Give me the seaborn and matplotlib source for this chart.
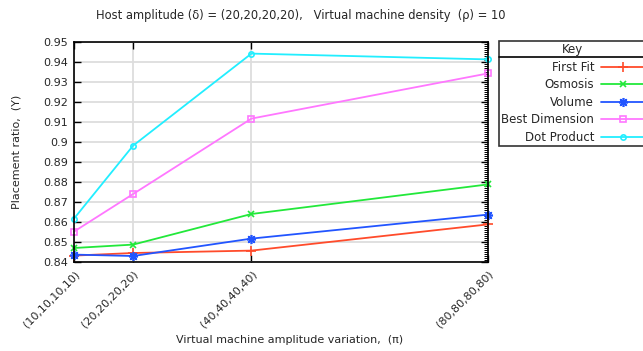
import matplotlib
matplotlib.use("Agg")
import matplotlib.pyplot as plt
from matplotlib.lines import Line2D
from matplotlib.ticker import MultipleLocator, FixedLocator, FuncFormatter
import seaborn as sns
import pandas as pd

# ---- data ----
amplitudes = [10, 20, 40, 80]
tick_labels = ["(10,10,10,10)", "(20,20,20,20)", "(40,40,40,40)", "(80,80,80,80)"]
first_fit = [0.8432, 0.8445, 0.8457, 0.8588]
osmosis = [0.8470, 0.8487, 0.8640, 0.8788]
volume = [0.8437, 0.8430, 0.8517, 0.8637]
best_dimension = [0.8552, 0.8740, 0.9117, 0.9343]
dot_product = [0.8617, 0.8982, 0.9442, 0.9413]

series_names = ["First Fit", "Osmosis", "Volume", "Best Dimension", "Dot Product"]
series_values = [first_fit, osmosis, volume, best_dimension, dot_product]
colors = ["#ff4b2b", "#22e83a", "#2255ff", "#ff77ff", "#22eeff"]
markers = ["+", "x", (8, 2, 0), "s", "o"]
msizes = [6.5, 5, 6.5, 5, 3.8]
filled = [True, True, True, False, False]

rows = []
for name, vals in zip(series_names, series_values):
    for a, v in zip(amplitudes, vals):
        rows.append({"amp": a, "ratio": v, "series": name})
df = pd.DataFrame(rows)

sns.set_theme(style="white")
plt.rcParams["font.family"] = ["DejaVu Sans"]
FS = 8

W, H = 643, 351
fig = plt.figure(figsize=(W / 100, H / 100), dpi=100)
ax = fig.add_axes([74 / W, 1 - 262 / H, (488 - 74) / W, (262 - 42) / H])

for name, c, m, ms, f in zip(series_names, colors, markers, msizes, filled):
    sub = df[df["series"] == name]
    kw = dict(markerfacecolor=c) if f else dict(markerfacecolor="none")
    sns.lineplot(data=sub, x="amp", y="ratio", ax=ax, color=c, marker=m,
                 markersize=ms, markeredgecolor=c, markeredgewidth=1.2,
                 linewidth=1.3, label=name, clip_on=False, zorder=3, **kw)

ax.set_xlim(10, 80)
ax.set_ylim(0.84, 0.95)
ax.xaxis.set_major_locator(FixedLocator(amplitudes))
ax.set_xticklabels(tick_labels, rotation=45, ha="right", rotation_mode="anchor", fontsize=FS)
ax.yaxis.set_major_locator(MultipleLocator(0.01))
ax.yaxis.set_minor_locator(MultipleLocator(0.001))
ax.yaxis.set_major_formatter(FuncFormatter(lambda v, p: ("%.2f" % v).rstrip("0").rstrip(".")))
ax.tick_params(axis="y", which="major", direction="in", left=True, right=True, length=5, width=1, labelsize=FS, pad=4, color="black")
ax.tick_params(axis="y", which="minor", direction="in", left=False, right=True, length=3, width=0.7, color="black")
ax.tick_params(axis="x", which="major", direction="in", bottom=True, top=True, length=5, width=1, labelsize=FS, pad=5, color="black")

ax.grid(True, which="major", color="#dddddd", linewidth=1.3)
ax.set_axisbelow(True)
for s in ax.spines.values():
    s.set_color("black")
    s.set_linewidth(1.2)
    s.set_zorder(4)

ax.set_xlabel("")
ax.set_ylabel("Placement ratio,  (\u03a5)", fontsize=FS, labelpad=16)
fig.text(290 / W, 1 - 340 / H, "Virtual machine amplitude variation,  (\u03c0)",
         ha="center", va="center", fontsize=FS)
fig.text(301 / W, 1 - 15 / H,
         "Host amplitude (\u03b4) = (20,20,20,20),   Virtual machine density  (\u03c1) = 10",
         ha="center", va="center", fontsize=8.3)

LFS = 8.5
leg = ax.legend(title="Key", loc="upper left", bbox_to_anchor=(499 / W, 1 - 41 / H),
                bbox_transform=fig.transFigure, markerfirst=False, frameon=True,
                fancybox=False, edgecolor="black", fontsize=LFS, title_fontsize=LFS,
                handlelength=3.6, labelspacing=0.38, borderpad=0.2, handletextpad=0.6,
                borderaxespad=0)
leg.get_frame().set_linewidth(1.2)
leg.set_clip_on(False)

fig.canvas.draw()
r = fig.canvas.get_renderer()
lb = leg.get_window_extent(r)
tb = leg.get_title().get_window_extent(r)
ysep = tb.y0 - 1
inv = fig.transFigure.inverted()
(x0, y0) = inv.transform((lb.x0, ysep))
(x1, _) = inv.transform((lb.x1, ysep))
fig.add_artist(Line2D([x0, x1], [y0, y0], transform=fig.transFigure, color="black", linewidth=1.2))

fig.savefig("out.png", dpi=100)
